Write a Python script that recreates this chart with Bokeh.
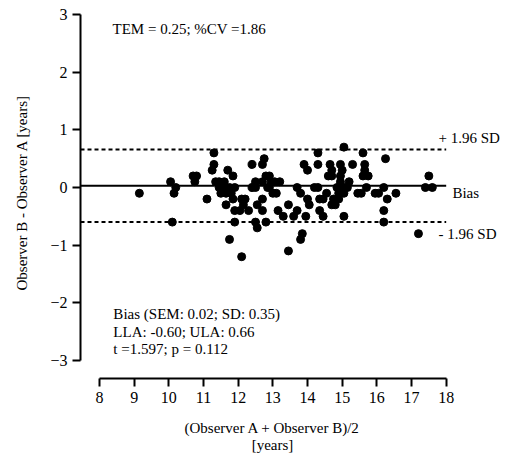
from bokeh.plotting import figure
from bokeh.models import FixedTicker, Label, Range1d, Title
from bokeh.embed import file_html
from bokeh.resources import INLINE

# ---- data ----
mean_ab = [9.15, 10.05, 10.2, 10.15, 10.1, 10.7, 10.8, 10.75, 11.1, 11.3,
           11.3, 11.25, 11.35, 11.45, 11.55, 11.6, 11.7, 11.85, 11.75, 11.9,
           11.65, 11.8, 11.65, 11.9, 12.05, 11.9, 11.75, 12.1, 12.1, 12.2,
           12.15, 12.3, 12.4, 12.7, 12.75, 12.8, 12.9, 12.5, 12.4, 12.5,
           12.7, 12.95, 13.05, 13.2, 12.85, 13.0, 13.1, 12.7, 12.55, 12.7,
           12.5, 12.55, 12.8, 13.15, 13.3, 13.45, 13.45, 13.6, 13.7, 13.7,
           13.8, 13.9, 14.0, 14.0, 14.05, 13.85, 13.8, 13.95, 14.3, 14.3,
           14.65, 14.7, 14.6, 14.7, 14.95, 15.0, 15.05, 14.95, 15.3, 15.6,
           15.65, 15.65, 15.6, 15.75, 15.7, 15.45, 15.55, 15.95, 14.2, 14.3,
           14.55, 14.45, 14.35, 14.75, 14.8, 14.7, 14.9, 14.35, 14.45, 15.05,
           16.25, 16.2, 16.05, 16.3, 16.55, 16.2, 16.2, 17.2, 17.5, 17.4,
           17.6, 14.85, 14.95, 15.05, 15.15, 14.9, 15.05, 15.2, 11.45, 11.5,
           11.85, 12.9]
diff_ba = [-0.1, 0.1, 0.0, -0.1, -0.6, 0.2, 0.2, 0.1, -0.2, 0.6,
           0.4, 0.3, 0.1, 0.1, 0.0, 0.1, 0.3, 0.2, 0.0, 0.0,
           -0.1, -0.1, -0.3, -0.4, -0.4, -0.6, -0.9, -1.2, -0.2, -0.2,
           -0.3, -0.4, 0.4, 0.4, 0.5, 0.2, 0.2, 0.1, 0.0, 0.0,
           0.1, 0.1, 0.1, 0.1, 0.0, -0.1, -0.1, -0.2, -0.3, -0.4,
           -0.6, -0.7, -0.6, -0.4, -0.5, -0.3, -1.1, -0.5, -0.4, 0.0,
           -0.1, 0.4, 0.3, -0.2, -0.3, -0.8, -0.9, -0.5, 0.6, 0.4,
           0.4, 0.3, 0.2, 0.2, 0.4, 0.3, 0.7, 0.2, 0.4, 0.6,
           0.4, 0.3, 0.2, 0.2, 0.0, -0.1, -0.1, -0.1, 0.0, 0.0,
           -0.1, -0.2, -0.2, -0.2, -0.3, -0.3, -0.2, -0.4, -0.5, -0.5,
           0.5, 0.0, -0.1, -0.2, -0.1, -0.4, -0.6, -0.8, 0.2, 0.0,
           0.0, 0.0, 0.1, 0.0, 0.0, -0.1, -0.1, 0.1, 0.0, -0.1,
           -0.2, 0.0]

bias = 0.03
lla = -0.60
ula = 0.66
x_ticks = [8, 9, 10, 11, 12, 13, 14, 15, 16, 17, 18]
y_ticks = [-3, -2, -1, 0, 1, 2, 3]

FONT = "Liberation Serif"
FS = "15px"

x0, x1 = 6.125, 19.855
y_axis_x = 7.452
p = figure(width=510, height=458, frame_width=476, frame_height=373,
           x_range=Range1d(x0, x1), y_range=Range1d(-3.312, 3.156),
           output_backend="svg", toolbar_location=None,
           min_border_left=34, min_border_top=5, min_border_right=0,
           min_border_bottom=0)
p.outline_line_color = None
p.grid.visible = False
p.background_fill_color = "white"
p.border_fill_color = "white"

for ax in (p.xaxis[0], p.yaxis[0]):
    ax.axis_line_width = 2
    ax.axis_line_color = "black"
    ax.major_tick_line_width = 2
    ax.major_tick_line_color = "black"
    ax.major_tick_out = 8
    ax.major_tick_in = 0
    ax.minor_tick_line_color = None
    ax.major_label_text_font = FONT
    ax.major_label_text_font_size = "16px"
    ax.major_label_text_color = "black"
    ax.major_label_standoff = 5
    ax.axis_label_text_font = FONT
    ax.axis_label_text_font_size = FS
    ax.axis_label_text_font_style = "normal"
    ax.axis_label_text_color = "black"

p.xaxis.ticker = FixedTicker(ticks=x_ticks)
p.yaxis.ticker = FixedTicker(ticks=y_ticks)
p.xaxis.bounds = (8, 18)
p.yaxis.bounds = (-3, 3)
p.yaxis.fixed_location = y_axis_x

p.xaxis.axis_label = "(Observer A + Observer B)/2\n[years]"
p.xaxis.axis_label_standoff = 14
p.xaxis.axis_label_text_line_height = 1.1
p.xaxis.axis_label_text_align = "center"

p.add_layout(Title(text="Observer B - Observer A [years]", text_font=FONT,
                   text_font_size=FS, text_font_style="normal",
                   text_color="black", align="left", offset=88,
                   standoff=10), "left")

# reference lines
p.line([y_axis_x, 18], [bias, bias], line_color="black", line_width=2)
p.line([y_axis_x, 18], [ula, ula], line_color="black", line_width=2, line_dash="4 3")
p.line([y_axis_x, 18], [lla, lla], line_color="black", line_width=2, line_dash="4 3")

p.scatter(mean_ab, diff_ba, size=8, color="black")

def lab(x, y, text, align="left"):
    p.add_layout(Label(x=x, y=y, text=text, text_font=FONT, text_font_size=FS,
                       text_color="black", text_align=align,
                       text_baseline="middle"))

lab(8.375, 2.74, "TEM = 0.25; %CV =1.86")
lab(8.40, -2.185, "Bias (SEM: 0.02; SD: 0.35)")
lab(8.40, -2.497, "LLA: -0.60; ULA: 0.66")
lab(8.40, -2.792, "t =1.597; p = 0.112")
lab(17.78, ula + 0.19, "+ 1.96 SD")
lab(18.18, bias - 0.134, "Bias")
lab(17.78, lla - 0.20, "- 1.96 SD")

open("out.html", "w").write(file_html(p, INLINE))
